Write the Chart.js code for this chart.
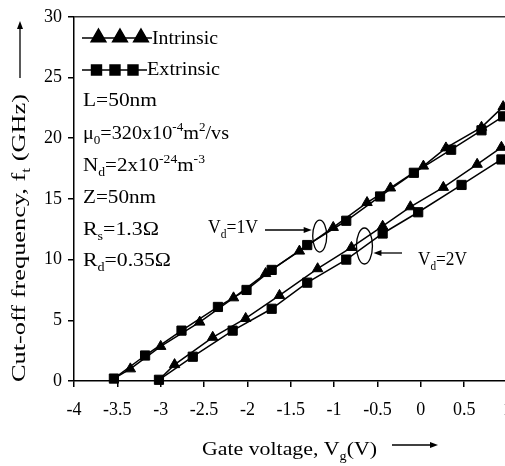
<!DOCTYPE html>
<html>
<head>
<meta charset="utf-8">
<script src="https://cdn.jsdelivr.net/npm/chart.js"></script>
<style>
  html, body { margin: 0; padding: 0; background: #fff; overflow: hidden; }
  #wrap { width: 524px; height: 466px; }
</style>
</head>
<body>
<div id="wrap"><canvas id="myChart" width="524" height="466"></canvas></div>
<script>
// gate voltage (V) / cut-off frequency (GHz)
const vgIntr1 = [-3.54, -3.35, -3.0, -2.55, -2.16, -1.79, -1.4, -1.01, -0.62, -0.35, 0.03, 0.29, 0.7, 0.95];
const ftIntr1 = [0.2, 1.0, 2.85, 4.85, 6.85, 8.85, 10.7, 12.65, 14.7, 15.9, 17.7, 19.2, 20.9, 22.6];
const vgExtr1 = [-3.54, -3.18, -2.76, -2.34, -2.01, -1.72, -1.31, -0.86, -0.47, -0.08, 0.35, 0.7, 0.95];
const ftExtr1 = [0.2, 2.1, 4.15, 6.1, 7.5, 9.15, 11.2, 13.2, 15.2, 17.15, 19.05, 20.65, 21.8];
const vgIntr2 = [-3.02, -2.84, -2.4, -2.02, -1.63, -1.19, -0.8, -0.44, -0.12, 0.26, 0.65, 0.93];
const ftIntr2 = [0.1, 1.35, 3.6, 5.15, 7.05, 9.25, 11.0, 12.75, 14.35, 15.95, 17.85, 19.25];
const vgExtr2 = [-3.02, -2.63, -2.17, -1.72, -1.31, -0.86, -0.44, -0.03, 0.47, 0.93];
const ftExtr2 = [0.1, 2.0, 4.15, 5.95, 8.1, 10.0, 12.15, 13.9, 16.15, 18.25];

const xTicks = [-4, -3.5, -3, -2.5, -2, -1.5, -1, -0.5, 0, 0.5, 1];
const yTicks = [0, 5, 10, 15, 20, 25, 30];

const FONT = "'Liberation Serif', 'Times New Roman', serif";

function zip(xs, ys) {
  return xs.map((x, i) => ({ x: x, y: ys[i] }));
}

// text with sub/superscripts: parts = [[text, ''|'b'|'p'], ...]
function drawRich(ctx, parts, x, y, size, width, align) {
  const small = size * 0.65;
  let w = 0;
  parts.forEach((p) => {
    ctx.font = (p[1] ? small : size) + "px " + FONT;
    w += ctx.measureText(p[0]).width;
  });
  const sx = width ? width / w : 1;
  ctx.save();
  ctx.fillStyle = "#000";
  ctx.textBaseline = "alphabetic";
  ctx.textAlign = "left";
  ctx.translate(align === "center" ? x - (w * sx) / 2 : x, y);
  ctx.scale(sx, 1);
  let cx = 0;
  parts.forEach((p) => {
    ctx.font = (p[1] ? small : size) + "px " + FONT;
    let dy = 0;
    if (p[1] === "b") dy = size * 0.28;
    if (p[1] === "p") dy = -size * 0.42;
    ctx.fillText(p[0], cx, dy);
    cx += ctx.measureText(p[0]).width;
  });
  ctx.restore();
}

function arrow(ctx, x1, y1, x2, y2) {
  const a = Math.atan2(y2 - y1, x2 - x1);
  ctx.save();
  ctx.strokeStyle = "#000";
  ctx.fillStyle = "#000";
  ctx.lineWidth = 1.3;
  ctx.beginPath();
  ctx.moveTo(x1, y1);
  ctx.lineTo(x2 - 6 * Math.cos(a), y2 - 6 * Math.sin(a));
  ctx.stroke();
  ctx.beginPath();
  ctx.moveTo(x2, y2);
  ctx.lineTo(x2 - 8 * Math.cos(a) + 3 * Math.sin(a), y2 - 8 * Math.sin(a) - 3 * Math.cos(a));
  ctx.lineTo(x2 - 8 * Math.cos(a) - 3 * Math.sin(a), y2 - 8 * Math.sin(a) + 3 * Math.cos(a));
  ctx.closePath();
  ctx.fill();
  ctx.restore();
}

const extras = {
  id: "extras",
  afterDraw(chart) {
    const ctx = chart.ctx;
    const area = chart.chartArea;
    const xs = chart.scales.x;
    const ys = chart.scales.y;

    // top frame line
    ctx.save();
    ctx.strokeStyle = "#333";
    ctx.lineWidth = 1.5;
    ctx.beginPath();
    ctx.moveTo(area.left, area.top);
    ctx.lineTo(area.right, area.top);
    ctx.stroke();
    ctx.restore();

    // legend
    ctx.save();
    ctx.strokeStyle = "#000";
    ctx.fillStyle = "#000";
    ctx.lineWidth = 1.5;
    ctx.beginPath();
    ctx.moveTo(82, 38);
    ctx.lineTo(152, 38);
    ctx.moveTo(82, 70);
    ctx.lineTo(147, 70);
    ctx.stroke();
    [98.5, 120, 141].forEach((x) => {
      Chart.helpers.drawPoint(ctx, { pointStyle: "triangle", radius: 8.5, borderWidth: 1 }, x, 37.5);
      ctx.fill();
    });
    [96.5, 115, 133].forEach((x) => {
      Chart.helpers.drawPoint(ctx, { pointStyle: "rect", radius: 7, borderWidth: 1 }, x, 70);
      ctx.fill();
    });
    ctx.restore();
    drawRich(ctx, [["Intrinsic", ""]], 152, 43.5, 19, 66);
    drawRich(ctx, [["Extrinsic", ""]], 147, 75, 19, 73);

    // device parameters
    drawRich(ctx, [["L=50nm", ""]], 83, 106, 19, 74);
    drawRich(ctx, [["\u03bc", ""], ["0", "b"], ["=320x10", ""], ["-4", "p"], ["m", ""], ["2", "p"], ["/vs", ""]], 83, 139, 19, 146);
    drawRich(ctx, [["N", ""], ["d", "b"], ["=2x10", ""], ["-24", "p"], ["m", ""], ["-3", "p"]], 83, 171, 19, 122);
    drawRich(ctx, [["Z=50nm", ""]], 83, 203, 19, 73);
    drawRich(ctx, [["R", ""], ["s", "b"], ["=1.3\u03a9", ""]], 83, 235, 19, 76);
    drawRich(ctx, [["R", ""], ["d", "b"], ["=0.35\u03a9", ""]], 83, 266, 19, 88);

    // Vd markers: ellipses around the curve pairs
    const e1x = xs.getPixelForValue(-1.166), e1y = ys.getPixelForValue(11.94);
    const e2x = xs.getPixelForValue(-0.65), e2y = ys.getPixelForValue(11.12);
    ctx.save();
    ctx.strokeStyle = "#000";
    ctx.lineWidth = 1.3;
    ctx.beginPath();
    ctx.ellipse(e1x, e1y, 7, 16, 0, 0, Math.PI * 2);
    ctx.stroke();
    ctx.beginPath();
    ctx.ellipse(e2x, e2y, 8, 18, 0, 0, Math.PI * 2);
    ctx.stroke();
    ctx.restore();
    drawRich(ctx, [["V", ""], ["d", "b"], ["=1V", ""]], 208, 233, 19, 50);
    arrow(ctx, 265, 230, e1x - 8, 230);
    drawRich(ctx, [["V", ""], ["d", "b"], ["=2V", ""]], 418, 265, 19, 49);
    arrow(ctx, 402, 253, e2x + 9, 253);

    // axis titles
    drawRich(ctx, [["Gate voltage, V", ""], ["g", "b"], ["(V)", ""]], 202, 455, 19, 175);
    arrow(ctx, 392, 445, 438, 445);
    ctx.save();
    ctx.translate(25, 382);
    ctx.rotate(-Math.PI / 2);
    drawRich(ctx, [["Cut-off frequency, f", ""], ["t", "b"], [" (GHz)", ""]], 0, 0, 18, 288);
    ctx.restore();
    arrow(ctx, 20, 78, 20, 21);
  },
};

const ctx = document.getElementById("myChart");

new Chart(ctx, {
  type: "scatter",
  data: {
    datasets: [
      {
        label: "Intrinsic, Vd=1V",
        data: zip(vgIntr1, ftIntr1),
        pointStyle: "triangle",
        pointRadius: (c) => (c.dataIndex === 0 ? 0 : 6),
      },
      {
        label: "Extrinsic, Vd=1V",
        data: zip(vgExtr1, ftExtr1),
        pointStyle: "rect",
        pointRadius: 6.5,
      },
      {
        label: "Intrinsic, Vd=2V",
        data: zip(vgIntr2, ftIntr2),
        pointStyle: "triangle",
        pointRadius: (c) => (c.dataIndex === 0 ? 0 : 6),
      },
      {
        label: "Extrinsic, Vd=2V",
        data: zip(vgExtr2, ftExtr2),
        pointStyle: "rect",
        pointRadius: 6.5,
      },
    ].map((d) =>
      Object.assign(d, {
        showLine: true,
        tension: 0,
        borderColor: "#000",
        backgroundColor: "#000",
        borderWidth: 1.5,
        pointBorderWidth: 1,
        pointBorderColor: "#000",
        pointBackgroundColor: "#000",
      })
    ),
  },
  options: {
    responsive: false,
    animation: false,
    clip: false,
    layout: { padding: { top: 13, right: 10, left: 0, bottom: 0 } },
    plugins: { legend: { display: false }, tooltip: { enabled: false } },
    scales: {
      x: {
        type: "linear",
        min: -4,
        max: 1,
        afterBuildTicks: (s) => {
          s.ticks = xTicks.map((v) => ({ value: v }));
        },
        afterFit: (s) => {
          s.height = 85;
        },
        grid: { drawOnChartArea: false, drawTicks: true, tickLength: 6, color: "#000", lineWidth: 1.5 },
        border: { display: true, color: "#000", width: 1.5 },
        ticks: {
          color: "#000",
          padding: 12,
          maxRotation: 0,
          font: { family: FONT, size: 18 },
          callback: (v) => String(v),
        },
      },
      y: {
        min: 0,
        max: 30,
        afterBuildTicks: (s) => {
          s.ticks = yTicks.map((v) => ({ value: v }));
        },
        afterFit: (s) => {
          s.width = 74;
        },
        grid: { drawOnChartArea: false, drawTicks: true, tickLength: 6, color: "#000", lineWidth: 1.5 },
        border: { display: true, color: "#000", width: 1.5 },
        ticks: {
          color: "#000",
          padding: 6,
          font: { family: FONT, size: 18 },
          callback: (v) => String(v),
        },
      },
    },
  },
  plugins: [extras],
});
</script>
</body>
</html>
